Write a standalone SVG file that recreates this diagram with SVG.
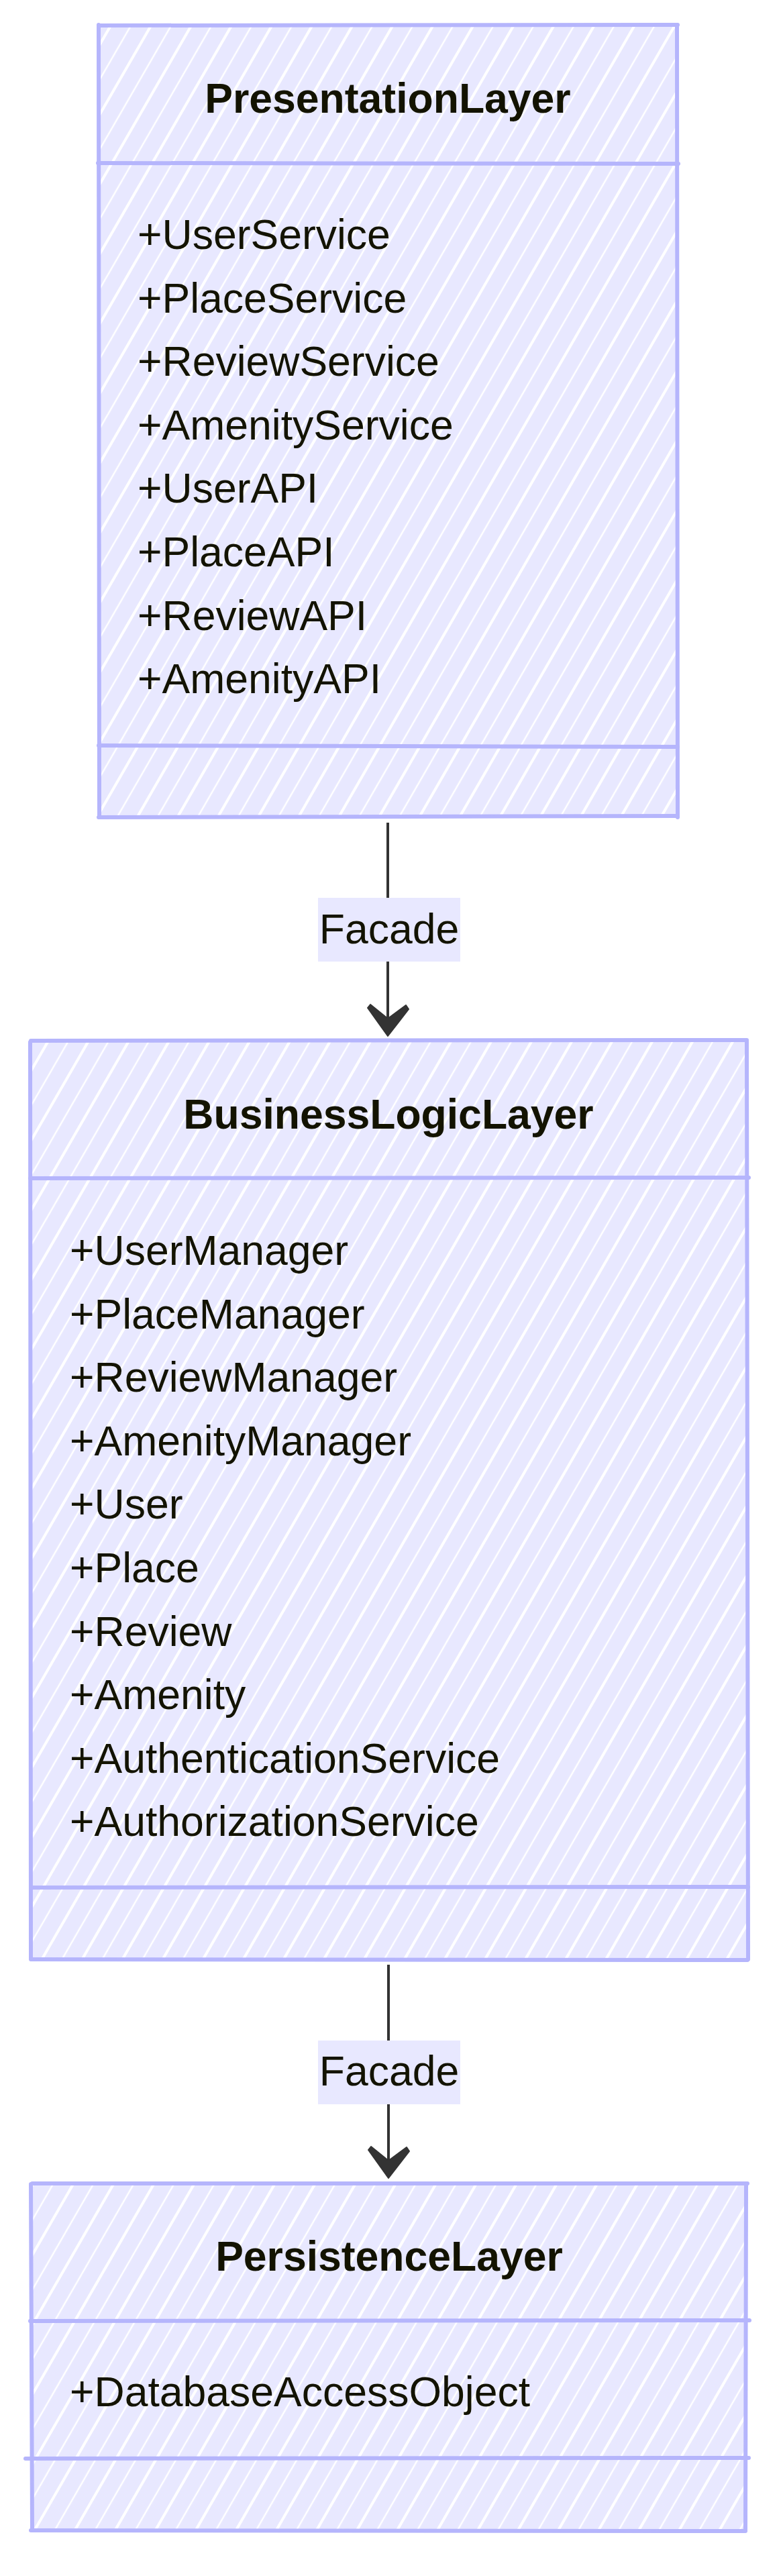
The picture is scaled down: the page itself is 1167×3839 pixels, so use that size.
<svg xmlns="http://www.w3.org/2000/svg" width="1167" height="3839" viewBox="0 0 1167 3839">
<defs>
  <pattern id="hach" patternUnits="userSpaceOnUse" width="52" height="52" patternTransform="rotate(30)">
    <rect width="52" height="52" fill="#E8E8FF"/>
    <line x1="6" y1="0" x2="6" y2="52" stroke="#FFFFFF" stroke-width="4"/>
    <line x1="32" y1="0" x2="32" y2="52" stroke="#FFFFFF" stroke-width="2.5"/>
  </pattern>
  <style>
    .box-fill { fill: url(#hach); }
    .box-line { stroke: #B5B5FC; stroke-width: 6; fill: none; stroke-linecap: round; }
    .title { font-family: "Liberation Sans", Arial, sans-serif; font-size: 62.5px; font-weight: bold; fill: #131300; text-anchor: middle; }
    .member { font-family: "Liberation Sans", Arial, sans-serif; font-size: 62.5px; fill: #131300; }
    .edge { stroke: #333333; stroke-width: 4; fill: none; }
    .arrowhead { fill: #333333; stroke: #333333; stroke-width: 2; stroke-linejoin: round; }
    .lbl-bg { fill: #E8E8FF; }
    .lbl { font-family: "Liberation Sans", Arial, sans-serif; font-size: 62.5px; fill: #131300; text-anchor: middle; }
  </style>
</defs>
<rect width="1167" height="3839" fill="#FFFFFF"/>

<g id="connectors">
  <g id="edge-presentation-business">
    <path class="edge" d="M578,1226 L578,1518"/>
    <path class="arrowhead" d="M548,1502 L552,1497 L578,1518 L605,1498 L609,1504 L578,1544 Z"/>
    <rect class="lbl-bg" x="474" y="1338" width="212" height="95"/>
    <text class="lbl" x="580" y="1406">Facade</text>
  </g>
  <g id="edge-business-persistence">
    <path class="edge" d="M579,2928 L579,3220"/>
    <path class="arrowhead" d="M549,3204 L553,3199 L579,3220 L606,3200 L610,3206 L579,3246 Z"/>
    <rect class="lbl-bg" x="474" y="3041" width="212" height="95"/>
    <text class="lbl" x="580" y="3108">Facade</text>
  </g>
</g>

<g id="PresentationLayer">
  <rect class="box-fill" x="147" y="37" width="863" height="1181"/>
  <path class="box-line" d="M147,38 L1010,37"/>
  <path class="box-line" d="M147,37 L148,1218"/>
  <path class="box-line" d="M1009,37 L1010,1218"/>
  <path class="box-line" d="M147,1218 L1010,1216"/>
  <path class="box-line" d="M146,243 L1011,244"/>
  <path class="box-line" d="M147,1111 L1010,1113"/>
  <text class="title" x="578" y="168">PresentationLayer</text>
  <text class="member" x="205" y="371">+UserService</text>
  <text class="member" x="205" y="465.6">+PlaceService</text>
  <text class="member" x="205" y="560.2">+ReviewService</text>
  <text class="member" x="205" y="654.8">+AmenityService</text>
  <text class="member" x="205" y="749.4">+UserAPI</text>
  <text class="member" x="205" y="844">+PlaceAPI</text>
  <text class="member" x="205" y="938.6">+ReviewAPI</text>
  <text class="member" x="205" y="1033.2">+AmenityAPI</text>
</g>

<g id="BusinessLogicLayer">
  <rect class="box-fill" x="46" y="1550" width="1068" height="1370"/>
  <path class="box-line" d="M46,1551 L1113,1550"/>
  <path class="box-line" d="M45,1553 L46,2920"/>
  <path class="box-line" d="M1113,1552 L1115,2920"/>
  <path class="box-line" d="M47,2920 L1114,2921"/>
  <path class="box-line" d="M45,1756 L1116,1755"/>
  <path class="box-line" d="M46,2813 L1115,2812"/>
  <text class="title" x="579" y="1682">BusinessLogicLayer</text>
  <text class="member" x="104" y="1885">+UserManager</text>
  <text class="member" x="104" y="1979.6">+PlaceManager</text>
  <text class="member" x="104" y="2074.2">+ReviewManager</text>
  <text class="member" x="104" y="2168.8">+AmenityManager</text>
  <text class="member" x="104" y="2263.4">+User</text>
  <text class="member" x="104" y="2358">+Place</text>
  <text class="member" x="104" y="2452.6">+Review</text>
  <text class="member" x="104" y="2547.2">+Amenity</text>
  <text class="member" x="104" y="2641.8">+AuthenticationService</text>
  <text class="member" x="104" y="2736.4">+AuthorizationService</text>
</g>

<g id="PersistenceLayer">
  <rect class="box-fill" x="46" y="3254" width="1068" height="517"/>
  <path class="box-line" d="M48,3254 L1114,3254"/>
  <path class="box-line" d="M46,3255 L48,3771"/>
  <path class="box-line" d="M1112,3256 L1111,3771"/>
  <path class="box-line" d="M46,3771 L1111,3772"/>
  <path class="box-line" d="M45,3459 L1117,3458"/>
  <path class="box-line" d="M38,3664 L1116,3663"/>
  <text class="title" x="580" y="3384">PersistenceLayer</text>
  <text class="member" x="104" y="3586">+DatabaseAccessObject</text>
</g>
</svg>
